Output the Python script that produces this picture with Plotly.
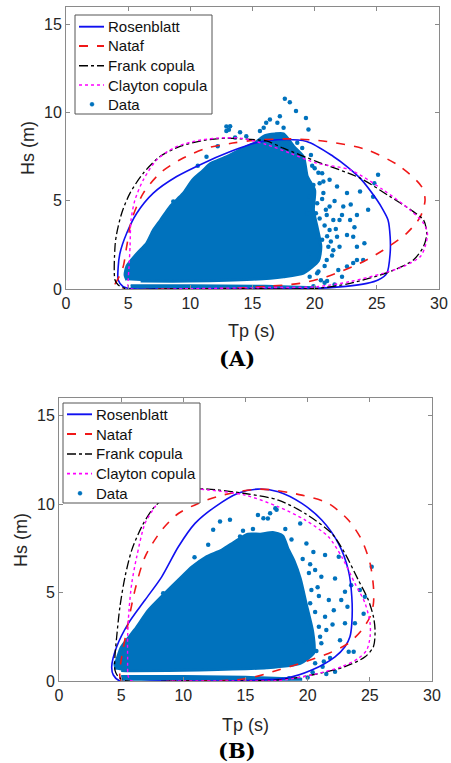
import plotly.graph_objects as go

# ---------------- Panel A contours (Tp [s], Hs [m]) ----------------
a_ros_tp = [5.4, 8.0, 12.0, 16.0, 20.2, 22.5, 24.2, 25.1, 25.8, 26.07, 26.07, 25.9, 25.5, 25.0, 23.65, 22.6, 21.5, 19.36, 17.0, 15.2, 12.93, 11.05, 8.9, 7.02, 5.69, 4.88, 4.34, 4.2, 4.2, 4.6, 5.4]
a_ros_hs = [0.0, 0.0, 0.0, 0.0, 0.04, 0.15, 0.32, 0.51, 0.89, 2.03, 2.97, 3.92, 4.49, 5.06, 6.29, 6.95, 7.52, 8.37, 8.47, 8.28, 7.71, 7.14, 6.38, 5.44, 4.3, 3.16, 2.03, 1.27, 0.51, 0.13, 0.0]

a_nat_tp = [4.4, 8.0, 13.5, 16.1, 18.8, 20.97, 23.65, 25.5, 27.4, 28.5, 28.88, 28.6, 26.87, 24.2, 20.97, 18.0, 15.07, 13.4, 11.3, 9.17, 7.56, 6.22, 5.28, 4.88, 4.6, 4.2, 3.94, 4.4]
a_nat_hs = [0.0, 0.0, 0.04, 0.15, 0.32, 0.70, 1.46, 2.2, 3.16, 4.1, 5.06, 5.81, 6.95, 7.9, 8.37, 8.52, 8.43, 8.28, 7.99, 7.33, 6.57, 5.44, 3.92, 2.4, 1.27, 0.6, 0.23, 0.0]

a_frk_tp = [4.88, 8.0, 14.8, 20.2, 22.85, 26.07, 27.94, 28.75, 29.02, 28.75, 27.94, 26.07, 23.65, 20.17, 17.48, 16.1, 14.0, 12.93, 11.05, 9.17, 7.56, 6.22, 5.15, 4.48, 4.08, 3.94, 3.94, 4.2, 4.88]
a_frk_hs = [0.0, 0.0, 0.02, 0.04, 0.32, 0.99, 1.65, 2.4, 3.16, 3.92, 4.39, 5.24, 6.29, 7.23, 7.99, 8.4, 8.52, 8.56, 8.43, 8.09, 7.52, 6.57, 5.44, 4.3, 3.16, 2.4, 0.51, 0.23, 0.0]

a_cla_tp = [5.3, 10.0, 16.1, 20.17, 22.85, 25.5, 27.1, 28.5, 28.88, 29.07, 28.75, 27.67, 25.5, 22.85, 20.17, 18.0, 16.1, 14.0, 12.12, 10.24, 8.63, 7.3, 6.22, 5.55, 5.23, 5.15, 5.07, 5.0, 5.0, 5.3]
a_cla_hs = [0.0, 0.02, 0.08, 0.13, 0.42, 0.89, 1.27, 1.84, 2.4, 3.16, 3.73, 4.49, 5.63, 6.76, 7.14, 7.71, 8.2, 8.56, 8.56, 8.37, 7.99, 7.33, 6.19, 5.06, 3.92, 2.4, 1.27, 0.51, 0.13, 0.0]

# Panel A data: dense core outline, low band outline, scattered points
a_core_tp = [4.9, 4.75, 4.9, 5.7, 6.5, 7.0, 7.6, 8.4, 9.4, 10.2, 11.0, 11.6, 12.9, 14.0, 15.2, 16.0, 16.8, 17.5, 18.3, 19.1, 19.4, 20.0, 19.9, 20.2, 20.5, 20.3, 19.1, 17.5, 15.0, 10.0, 6.0]
a_core_hs = [0.5, 0.8, 1.3, 2.0, 2.6, 3.3, 3.9, 4.7, 5.4, 6.2, 6.7, 7.1, 7.5, 7.9, 8.3, 8.7, 8.8, 8.8, 8.1, 7.5, 6.4, 5.6, 4.5, 3.5, 2.4, 1.6, 0.9, 0.7, 0.55, 0.45, 0.45]
a_band_tp = [5.2, 12.0, 18.0, 20.0, 20.0, 16.0, 10.0, 5.2]
a_band_hs = [0.04, 0.03, 0.03, 0.05, 0.12, 0.2, 0.22, 0.22]
a_pts_tp = [17.6, 18.0, 18.5, 19.3, 19.5, 17.5, 17.0, 16.1, 15.9, 15.6, 13.2, 12.9, 14.5, 17.2, 16.4, 8.63, 12.9, 13.1,
            25.1, 24.7, 23.65, 23.4, 24.3, 22.6, 22.3, 22.85, 22.6, 23.1, 23.4, 23.9, 23.4, 21.8, 22.0, 21.5, 21.2, 21.2,
            20.7, 21.8, 20.4, 20.0, 20.6, 21.1, 21.5, 20.97, 21.9, 21.2, 22.6, 22.2, 20.2, 19.6, 20.2, 20.97, 20.2, 19.6, 19.4,
            23.1, 22.0, 20.8, 19.9, 21.6,
            19.8, 20.3, 19.9, 20.6, 20.4, 20.8, 20.6, 21.3, 20.8, 21.4, 21.7, 22.2, 22.9, 23.2, 24.0, 24.8, 19.6, 20.5,
            21.0, 18.6, 19.0, 14.0, 13.6, 12.2, 11.3, 10.6, 20.9, 21.6, 20.3, 19.9, 21.0, 20.1, 20.7, 19.7]
a_pts_hs = [10.8, 10.6, 10.1, 9.7, 9.05, 9.15, 9.43, 9.43, 9.15, 8.96, 9.24, 8.96, 8.67, 9.8, 9.62, 4.96, 9.22, 9.03,
            6.48, 5.24, 5.53, 4.2, 4.49, 5.44, 4.68, 3.92, 3.07, 2.97, 2.4, 1.65, 1.65, 2.97, 3.92, 3.92, 4.68, 6.2,
            5.44, 5.81, 6.0, 6.85, 6.57, 2.4, 2.2, 1.65, 1.08, 3.35, 1.27, 0.7, 0.89, 2.03, 2.97, 4.2, 4.87, 5.24, 4.3,
            1.48, 2.4, 0.35, 0.15, 0.25,
            7.0, 6.6, 5.9, 5.1, 4.0, 3.6, 2.8, 2.7, 1.3, 1.9, 3.4, 4.2, 4.8, 3.5, 2.6, 6.0, 0.7, 0.5,
            0.45, 8.3, 8.0, 8.9, 8.6, 8.1, 7.5, 7.0, 4.5, 5.0, 1.0, 1.5, 3.0, 4.3, 6.1, 7.6]

# ---------------- Panel B contours ----------------
b_ros_tp = [4.9, 8.0, 12.0, 16.0, 18.2, 20.33, 22.2, 23.0, 23.4, 23.55, 23.55, 23.27, 22.47, 21.13, 19.53, 17.64, 16.0, 14.4, 12.55, 10.94, 9.6, 8.26, 6.92, 5.58, 4.64, 4.24, 4.37, 4.9]
b_ros_hs = [0.0, 0.0, 0.0, 0.05, 0.15, 0.62, 1.37, 1.94, 2.5, 3.26, 4.76, 6.27, 7.78, 9.1, 10.04, 10.7, 10.85, 10.62, 9.85, 8.91, 7.59, 5.89, 4.58, 3.26, 1.94, 0.81, 0.34, 0.0]

b_nat_tp = [5.04, 10.0, 14.0, 15.77, 17.64, 19.8, 21.67, 23.27, 24.35, 25.02, 25.29, 25.29, 25.02, 24.35, 23.27, 21.67, 19.53, 16.2, 13.1, 11.2, 9.6, 8.26, 6.92, 6.11, 5.45, 5.04, 4.9, 4.9, 5.04]
b_nat_hs = [0.0, 0.0, 0.05, 0.24, 0.62, 1.09, 1.56, 2.13, 2.88, 3.63, 4.39, 5.33, 6.65, 7.97, 9.1, 10.04, 10.51, 10.85, 10.5, 10.04, 9.47, 8.53, 7.02, 5.14, 2.88, 1.37, 0.62, 0.24, 0.0]

b_frk_tp = [5.45, 10.0, 15.0, 17.64, 20.33, 23.0, 24.62, 25.29, 25.42, 25.29, 24.88, 24.08, 23.0, 21.94, 19.8, 17.64, 14.96, 12.0, 10.26, 9.33, 8.26, 7.46, 6.65, 5.85, 5.31, 4.9, 4.64, 4.5, 4.5, 4.77, 5.45]
b_frk_hs = [0.0, 0.0, 0.0, 0.06, 0.34, 0.81, 1.37, 1.94, 2.88, 3.63, 4.58, 5.7, 7.21, 8.34, 9.47, 10.23, 10.6, 10.85, 10.85, 10.7, 10.23, 9.66, 8.72, 7.4, 5.89, 4.2, 2.5, 1.37, 0.62, 0.24, 0.0]

b_cla_tp = [5.85, 10.0, 15.4, 17.64, 20.33, 22.74, 24.08, 24.75, 25.02, 25.02, 24.62, 23.8, 22.74, 21.67, 19.8, 17.64, 14.96, 12.0, 10.26, 8.26, 7.72, 6.92, 6.25, 5.85, 5.63, 5.52, 5.52, 5.58, 5.85]
b_cla_hs = [0.0, 0.0, 0.0, 0.02, 0.34, 0.81, 1.28, 1.75, 2.5, 3.26, 4.39, 5.52, 7.02, 8.15, 9.1, 9.85, 10.51, 10.8, 10.85, 10.41, 9.85, 8.91, 7.02, 5.52, 4.01, 2.5, 1.37, 0.24, 0.0]

b_core_tp = [4.6, 4.5, 4.65, 5.0, 6.1, 7.2, 8.3, 9.6, 10.7, 11.8, 13.1, 14.2, 15.2, 16.2, 17.2, 18.0, 18.4, 18.9, 19.4, 19.9, 20.4, 20.5, 19.4, 16.7, 11.3, 6.0, 5.0]
b_core_hs = [0.65, 1.0, 1.2, 1.9, 2.9, 4.0, 4.8, 5.7, 6.45, 7.0, 7.4, 7.9, 8.3, 8.3, 8.4, 8.2, 7.5, 6.8, 5.8, 4.3, 2.8, 1.6, 1.0, 0.75, 0.62, 0.58, 0.6]
b_band_tp = [5.0, 12.0, 17.5, 19.5, 19.5, 15.0, 10.0, 5.0]
b_band_hs = [0.05, 0.04, 0.04, 0.06, 0.14, 0.25, 0.3, 0.3]
b_pts_tp = [17.4, 16.0, 16.8, 25.15, 21.4, 20.46, 19.9, 19.4, 21.1, 22.2, 23.0, 23.5, 24.2, 24.6, 22.7, 21.7, 22.1, 21.4,
            20.9, 21.5, 21.1, 23.0, 23.8, 23.7, 23.3, 20.6, 22.2, 20.3, 20.6, 20.2, 22.5, 8.38, 12.95, 13.75, 12.4,
            14.56, 16.44, 16.98, 17.5, 21.5, 20.0, 18.5,
            19.6, 20.1, 20.8, 19.9, 20.6, 21.0, 20.7, 21.8, 22.6, 22.0, 23.2, 24.5, 18.7, 18.2, 15.6, 14.8, 12.0, 10.9,
            21.2, 20.4, 20.9, 21.3, 19.8, 20.2]
b_pts_hs = [9.76, 9.38, 9.19, 6.46, 7.12, 7.3, 7.78, 8.9, 5.89, 5.8, 5.05, 5.42, 5.14, 4.76, 4.58, 4.58, 4.0, 3.63,
            3.07, 2.88, 2.13, 3.26, 3.26, 1.66, 1.66, 1.0, 0.53, 5.14, 6.27, 4.39, 7.02, 4.96, 9.02, 9.11, 8.55,
            8.17, 9.2, 9.49, 9.68, 0.4, 0.2, 0.15,
            6.9, 6.1, 5.3, 3.5, 3.9, 2.5, 1.7, 1.3, 2.3, 3.2, 4.2, 3.8, 8.0, 8.6, 8.6, 8.5, 7.7, 7.0,
            0.8, 0.5, 4.8, 1.1, 2.2, 6.6]

legend_labels = ["Rosenblatt", "Nataf", "Frank copula", "Clayton copula", "Data"]

# ---------------- styles ----------------
C_DATA = "#0072BD"
FONT = "Liberation Sans"
curves = [
    ("Rosenblatt", "#1010F0", "solid", 1.6),
    ("Nataf", "#F01818", "dash", 1.6),
    ("Frank copula", "#000000", "dashdot", 1.3),
    ("Clayton copula", "#FF00FF", "dot", 1.4),
]

W, H = 451, 763

def px_x(p):
    return p / W

def px_y(p):
    return 1 - p / H

fig = go.Figure()

def add_panel(xa, ya, core, band, pts, contours):
    fig.add_trace(go.Scatter(x=core[0], y=core[1], xaxis=xa, yaxis=ya, mode="lines", fill="toself",
                             fillcolor=C_DATA, line=dict(color=C_DATA, width=3, shape="spline", smoothing=0.6),
                             showlegend=False, hoverinfo="skip"))
    fig.add_trace(go.Scatter(x=band[0], y=band[1], xaxis=xa, yaxis=ya, mode="lines", fill="toself",
                             fillcolor=C_DATA, line=dict(color=C_DATA, width=1.5),
                             showlegend=False, hoverinfo="skip"))
    fig.add_trace(go.Scatter(x=pts[0], y=pts[1], xaxis=xa, yaxis=ya, mode="markers", name="Data",
                             marker=dict(color=C_DATA, size=4.5, symbol="circle"), showlegend=False))
    for (name, col, dash, w), (tp, hs) in zip(curves, contours):
        fig.add_trace(go.Scatter(x=tp, y=hs, xaxis=xa, yaxis=ya, mode="lines", name=name,
                                 line=dict(color=col, dash=dash, width=w, shape="spline", smoothing=0.8),
                                 showlegend=False))

add_panel("x", "y", (a_core_tp, a_core_hs), (a_band_tp, a_band_hs), (a_pts_tp, a_pts_hs),
          [(a_ros_tp, a_ros_hs), (a_nat_tp, a_nat_hs), (a_frk_tp, a_frk_hs), (a_cla_tp, a_cla_hs)])
add_panel("x2", "y2", (b_core_tp, b_core_hs), (b_band_tp, b_band_hs), (b_pts_tp, b_pts_hs),
          [(b_ros_tp, b_ros_hs), (b_nat_tp, b_nat_hs), (b_frk_tp, b_frk_hs), (b_cla_tp, b_cla_hs)])

# ---- legend boxes drawn as shapes + text (pixel layout of the figure) ----
def add_legend(left, top, right, bottom, rows):
    fig.add_shape(type="rect", xref="paper", yref="paper",
                  x0=px_x(left), x1=px_x(right), y0=px_y(bottom), y1=px_y(top),
                  line=dict(color="#555555", width=1), fillcolor="white", layer="above")
    for i, (lab, yrow) in enumerate(zip(legend_labels, rows)):
        if i < 4:
            _, col, dash, w = curves[i]
            fig.add_shape(type="line", xref="paper", yref="paper",
                          x0=px_x(left + 4), x1=px_x(left + 29), y0=px_y(yrow), y1=px_y(yrow),
                          line=dict(color=col, dash=dash, width=w + 0.3), layer="above")
        else:
            fig.add_shape(type="circle", xref="paper", yref="paper",
                          x0=px_x(left + 15), x1=px_x(left + 19), y0=px_y(yrow + 2), y1=px_y(yrow - 2),
                          line=dict(color=C_DATA, width=0.5), fillcolor=C_DATA, layer="above")
        fig.add_annotation(xref="paper", yref="paper", x=px_x(left + 31), y=px_y(yrow), text=lab,
                           showarrow=False, xanchor="left", yanchor="middle",
                           font=dict(family=FONT, size=15, color="#111111"))

add_legend(75, 15, 212, 114, [26.7, 46.0, 65.7, 85.0, 104.3])
add_legend(63, 403, 200, 503, [414.3, 434.0, 454.0, 473.7, 493.3])

axis_common = dict(showgrid=False, zeroline=False, showline=True, linecolor="#8a8a8a", linewidth=1,
                   mirror="ticks", ticks="inside", ticklen=4, tickcolor="#8a8a8a", automargin=False,
                   tickfont=dict(family=FONT, size=16, color="#262626"))
x_ticks = [0, 5, 10, 15, 20, 25, 30]
y_ticks = [0, 5, 10, 15]

fig.update_layout(
    width=W, height=H, margin=dict(l=0, r=0, t=0, b=0, autoexpand=False),
    paper_bgcolor="white", plot_bgcolor="white", showlegend=False,
    xaxis=dict(domain=[px_x(66), px_x(439)], range=[0, 30], tickvals=x_ticks, anchor="y", **axis_common),
    yaxis=dict(domain=[px_y(289), px_y(7)], range=[0, 16], tickvals=y_ticks, anchor="x", **axis_common),
    xaxis2=dict(domain=[px_x(59), px_x(432)], range=[0, 30], tickvals=x_ticks, anchor="y2", **axis_common),
    yaxis2=dict(domain=[px_y(681), px_y(398)], range=[0, 16], tickvals=y_ticks, anchor="x2", **axis_common),
)

ann = [
    dict(text="Tp (s)", x=px_x(252), y=px_y(331), font=dict(family=FONT, size=18, color="#262626")),
    dict(text="Hs (m)", x=px_x(28), y=px_y(148), textangle=-90, font=dict(family=FONT, size=18, color="#262626")),
    dict(text="<b>(A)</b>", x=px_x(237), y=px_y(358), font=dict(family="DejaVu Serif", size=21, color="#000000")),
    dict(text="Tp (s)", x=px_x(246), y=px_y(725), font=dict(family=FONT, size=18, color="#262626")),
    dict(text="Hs (m)", x=px_x(21), y=px_y(540), textangle=-90, font=dict(family=FONT, size=18, color="#262626")),
    dict(text="<b>(B)</b>", x=px_x(237), y=px_y(750), font=dict(family="DejaVu Serif", size=21, color="#000000")),
]
for a in ann:
    fig.add_annotation(xref="paper", yref="paper", showarrow=False, xanchor="center", yanchor="middle", **a)

fig.write_html("out.html", config={"displayModeBar": False},
               post_script="document.body.style.margin='0px';document.body.style.overflow='hidden';")
